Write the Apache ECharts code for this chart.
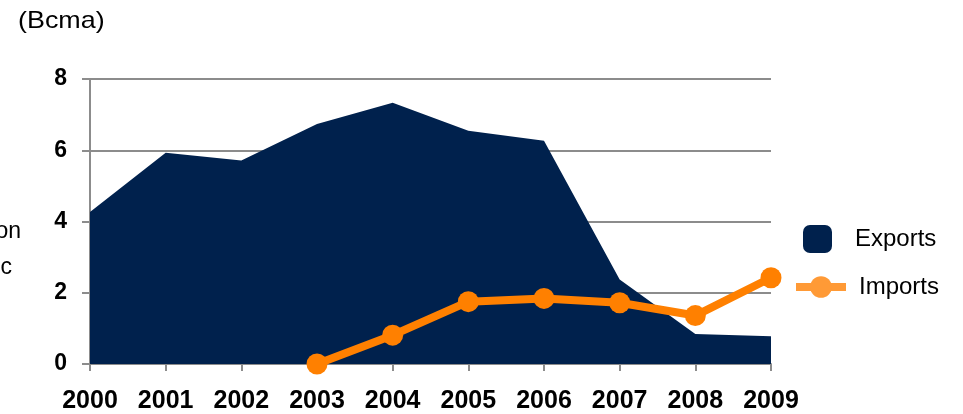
<!DOCTYPE html>
<html>
<head>
<meta charset="utf-8">
<title>Exports and Imports (Bcma)</title>
<script src="https://cdn.jsdelivr.net/npm/echarts@6/dist/echarts.min.js"></script>
<style>
  html, body { margin: 0; padding: 0; background: #fff; }
  #chart { width: 963px; height: 414px; }
</style>
</head>
<body>
<div id="chart"></div>
<script>
// Annual volumes, billion cubic metres per year
const years = ['2000', '2001', '2002', '2003', '2004', '2005', '2006', '2007', '2008', '2009'];
const exportsBcma = [4.27, 5.93, 5.71, 6.74, 7.33, 6.55, 6.27, 2.37, 0.84, 0.78];
const importsBcma = [null, null, null, 0, 0.81, 1.75, 1.84, 1.72, 1.36, 2.42];
const yTicks = { min: 0, max: 8, interval: 2 };

const FONT = 'Arial, "Liberation Sans", sans-serif';
const GRID_GREY = '#8c8c8c';
const NAVY = '#00214d';
const ORANGE = '#ff8000';
const ORANGE_KEY = '#ff9a36';

const chart = echarts.init(document.getElementById('chart'), null, { renderer: 'canvas' });

chart.setOption({
  animation: false,
  backgroundColor: '#ffffff',
  textStyle: { fontFamily: FONT },
  grid: { left: 90, right: 192, top: 79, bottom: 48 },
  graphic: [
    { type: 'text', left: 18, top: 9, scaleX: 1.12, style: { text: '(Bcma)', font: '24px ' + FONT, fill: '#000' } },
    { type: 'text', x: 21, y: 232, style: { text: 'Production', font: '23px ' + FONT, fill: '#000', align: 'right', verticalAlign: 'middle' } },
    { type: 'text', x: 12, y: 268, style: { text: 'Domestic', font: '23px ' + FONT, fill: '#000', align: 'right', verticalAlign: 'middle' } }
  ],
  legend: [
    {
      data: [{ name: 'Exports', icon: 'roundRect' }],
      left: 798, top: 220,
      itemWidth: 29, itemHeight: 28,
      itemStyle: { color: NAVY },
      textStyle: { fontFamily: FONT, fontSize: 24, color: '#000', padding: [0, 0, 0, 18] },
      selectedMode: false
    },
    {
      data: ['Imports'],
      left: 787, top: 270,
      itemWidth: 50, itemHeight: 27,
      itemStyle: { color: ORANGE_KEY },
      lineStyle: { color: ORANGE_KEY, width: 8 },
      textStyle: { fontFamily: FONT, fontSize: 24, color: '#000', padding: [0, 0, 0, 8] },
      selectedMode: false
    }
  ],
  xAxis: {
    type: 'category',
    data: years,
    boundaryGap: false,
    axisLine: { show: true, lineStyle: { color: GRID_GREY, width: 2 } },
    axisTick: { show: true, length: 7, lineStyle: { color: GRID_GREY, width: 2 } },
    axisLabel: { fontFamily: FONT, fontSize: 25, fontWeight: 'bold', color: '#000', margin: 25 },
    splitLine: { show: false }
  },
  yAxis: {
    type: 'value',
    min: yTicks.min, max: yTicks.max, interval: yTicks.interval,
    axisLine: { show: true, lineStyle: { color: GRID_GREY, width: 2 } },
    axisTick: { show: true, length: 8, lineStyle: { color: GRID_GREY, width: 2 } },
    axisLabel: { fontFamily: FONT, fontSize: 23, fontWeight: 'bold', color: '#000', margin: 23 },
    splitLine: { show: true, lineStyle: { color: GRID_GREY, width: 2 } }
  },
  series: [
    {
      name: 'Exports',
      type: 'line',
      data: exportsBcma,
      symbol: 'none',
      lineStyle: { width: 0, color: NAVY },
      itemStyle: { color: NAVY },
      areaStyle: { color: NAVY, opacity: 1 },
      z: 2
    },
    {
      name: 'Imports',
      type: 'line',
      data: importsBcma,
      symbol: 'circle',
      symbolSize: 21,
      clip: false,
      connectNulls: false,
      lineStyle: { width: 8, color: ORANGE },
      itemStyle: { color: ORANGE },
      z: 3
    }
  ]
});
</script>
</body>
</html>
